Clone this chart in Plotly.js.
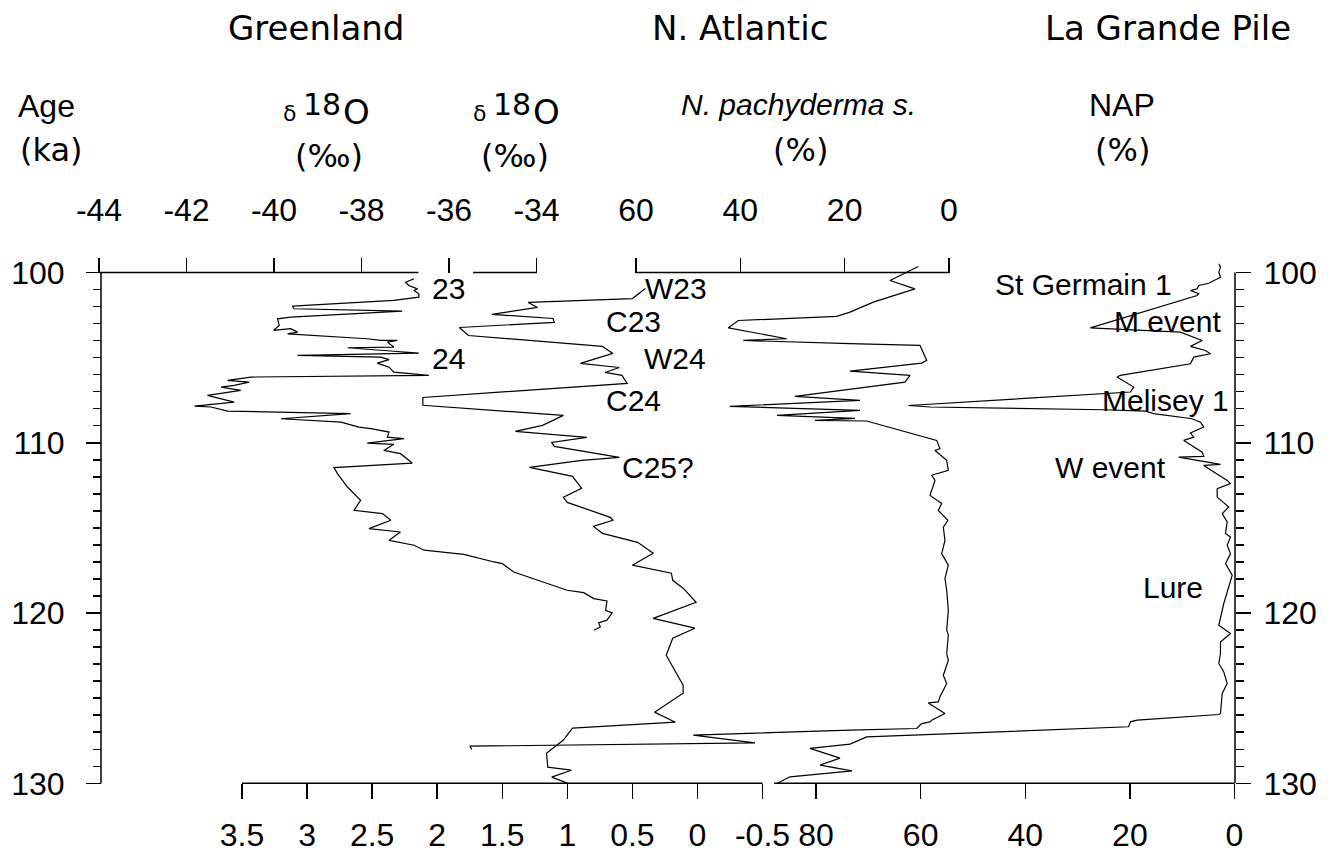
<!DOCTYPE html>
<html><head><meta charset="utf-8">
<script src="https://cdn.plot.ly/plotly-3.0.1.min.js"></script>
<style>html,body{margin:0;padding:0;background:#fff}</style>
</head><body><div id="chart" style="width:1334px;height:856px"></div>
<script>
// ---------------- DATA ----------------
// Greenland ice-core delta18O (permil) vs age (ka)
const grAge = [100.37,100.57,100.76,100.96,101.06,101.25,101.45,101.64,101.98,102.13,102.27,102.62,102.72,103.11,103.40,103.30,103.50,103.60,103.89,103.99,103.99,104.09,104.38,104.42,104.64,104.74,104.87,104.97,105.12,105.32,105.56,105.85,106.04,106.14,106.34,106.44,106.63,106.73,106.92,107.22,107.61,107.85,107.90,108.14,108.29,108.59,108.79,109.08,109.17,109.37,109.67,109.76,110.02,110.09,110.45,110.64,111.19,111.38,111.46,111.81,112.60,113.38,113.97,114.16,114.55,115.04,115.24,115.73,116.02,116.31,116.55,117.00,117.10,117.59,117.98,118.37,118.66,118.80,119.15,119.29,119.84,119.99,120.42,120.58,120.82,121.01];
const grD18O = [-36.80,-36.99,-36.92,-36.72,-36.80,-36.69,-36.69,-37.26,-39.58,-39.54,-37.07,-39.62,-39.92,-39.88,-40.01,-39.62,-39.46,-39.69,-37.87,-37.56,-37.18,-37.41,-37.26,-38.32,-37.18,-36.69,-39.46,-37.56,-37.37,-37.64,-37.37,-37.26,-36.46,-40.53,-41.06,-40.57,-40.91,-41.21,-40.76,-41.52,-40.91,-41.82,-41.44,-41.06,-38.25,-39.84,-38.47,-38.06,-37.79,-37.37,-37.41,-37.03,-37.87,-37.26,-37.49,-37.11,-36.84,-38.32,-38.63,-38.55,-38.32,-38.02,-38.17,-37.52,-37.33,-37.83,-37.11,-37.37,-36.80,-36.57,-35.66,-34.97,-34.78,-34.52,-34.06,-33.60,-33.30,-32.92,-32.69,-32.39,-32.42,-32.27,-32.39,-32.58,-32.54,-32.69];

// N. Atlantic delta18O (permil) vs age (ka)
const naAge = [100.94,101.53,101.76,102.05,102.46,102.70,102.93,103.23,103.70,104.34,104.75,105.34,105.58,105.87,106.04,106.51,107.34,107.80,108.39,108.98,109.33,109.68,109.98,110.21,110.86,111.03,111.44,111.97,112.68,113.20,113.50,114.38,114.55,114.91,115.32,115.85,116.49,117.19,117.66,118.08,118.54,119.37,120.31,120.89,121.48,122.48,124.24,124.71,125.82,126.41,126.76,127.46,128.23,129.05,129.23,129.64,129.99];
const naD18O = [0.40,0.50,1.30,1.23,1.58,1.11,1.10,1.83,1.76,0.73,0.65,0.90,0.60,0.71,0.58,0.54,2.11,2.11,1.03,1.19,1.40,0.85,1.12,1.10,0.60,0.89,1.29,0.96,0.89,1.03,1.00,0.67,0.65,0.80,0.73,0.46,0.34,0.50,0.20,0.19,0.11,0.01,0.34,0.02,0.19,0.24,0.11,0.11,0.33,0.17,0.96,1.03,1.16,1.15,0.97,1.12,1.00];

// N. Atlantic N. pachyderma s. (%) vs age (ka)
const npAge = [99.65,100.47,100.96,101.74,102.33,102.58,102.82,103.25,103.89,103.99,104.18,104.28,105.16,105.32,105.79,106.04,106.44,107.28,107.51,107.86,108.10,108.39,108.57,108.69,108.72,109.86,110.35,110.45,111.03,111.62,111.91,112.21,113.09,113.57,113.97,114.55,114.95,115.73,116.51,117.19,117.97,118.66,119.84,121.01,121.30,122.38,122.77,123.65,124.14,124.92,125.22,125.28,125.90,126.29,126.39,126.49,126.68,126.78,126.88,127.17,127.62,127.82,128.01];
const npPct = [5.88,11.31,6.52,14.51,18.98,21.53,40.39,42.30,31.11,39.43,18.98,5.56,4.27,5.23,18.98,7.48,8.43,29.52,17.06,41.98,17.06,32.97,18.02,25.69,15.78,2.36,1.73,2.68,0.44,0.13,3.32,2.68,3.64,1.40,2.05,0.20,1.09,0.77,1.40,0.13,0.77,0.44,0.13,0.44,0.13,0.44,0.13,1.09,0.44,1.73,2.05,3.97,0.77,3.32,3.64,5.23,5.88,6.19,18.98,49.01,37.19,91.81,91.49];

// La Grande Pile non-arboreal pollen NAP (%) vs age (ka)
const napAge = [99.49,99.69,99.98,100.28,100.63,100.76,100.96,101.06,101.25,101.35,103.25,103.50,103.99,104.34,104.58,104.77,104.97,105.36,106.04,106.14,106.73,107.02,107.81,107.90,108.06,108.14,108.29,108.59,108.79,109.08,109.43,109.67,109.86,110.55,110.80,110.84,111.27,111.33,112.21,112.40,112.69,113.19,113.77,114.16,114.65,115.33,115.53,116.02,116.51,117.10,117.78,118.47,119.44,120.72,121.20,121.70,122.38,122.96,123.46,124.14,124.72,125.90,125.96,126.29,126.39,126.68,127.27,127.70,127.95,128.52,128.93,129.27,129.62,130.01];
const napPct = [3.00,2.68,3.00,2.68,4.92,6.83,7.14,8.42,6.83,7.14,27.56,10.33,6.18,8.42,5.55,4.59,7.79,8.42,21.82,22.45,19.27,19.90,62.33,58.18,25.01,17.03,15.44,8.10,6.51,5.88,8.42,7.79,9.70,6.18,5.88,10.66,2.68,5.88,1.40,0.77,3.31,3.31,1.09,2.35,1.40,1.72,0.77,1.40,0.77,1.72,0.44,1.09,2.05,3.00,0.77,2.68,2.68,3.00,2.05,1.40,2.35,2.68,3.00,18.62,19.90,20.23,70.30,73.49,81.15,75.41,79.23,73.11,84.98,87.46];

// Tick values / labels
const ageTicks = [100, 110, 120, 130];
const grTicks = [-44, -42, -40, -38, -36, -34];
const grTickText = ['-44', '-42', '-40', '-38', '-36', '-34'];
const naTicks = [3.5, 3, 2.5, 2, 1.5, 1, 0.5, 0, -0.5];
const naTickText = ['3.5', '3', '2.5', '2', '1.5', '1', '0.5', '0', '-0.5'];
const npTicks = [60, 40, 20, 0];
const napTicks = [80, 60, 40, 20, 0];

// ---------------- LAYOUT ----------------
const W = 1334, H = 856;
const px = x => x / W;
const py = y => 1 - y / H;
const FONT = 'Liberation Sans, Arial, Helvetica, sans-serif';
const WIDE = 'DejaVu Sans, Verdana, sans-serif';
const BLACK = '#000';

const minorAges = [];
for (let a = 101; a < 130; a++) if (a % 10 !== 0) minorAges.push(a);

const yRange = [134.269, 83.996];
const yTop = py(272.5), yBot = py(783.3);

function xAxis(extra) {
  return Object.assign({
    domain: [0, 1], anchor: 'free', tickmode: 'array', ticks: 'outside',
    ticklen: 15, tickwidth: 1.5, tickcolor: BLACK, showline: false, showgrid: false,
    zeroline: false, fixedrange: true,
    tickfont: {family: FONT, size: 32, color: BLACK}
  }, extra);
}
function yAxis(extra) {
  return Object.assign({
    domain: [0, 1], anchor: 'free', range: yRange, tickmode: 'array', tickvals: ageTicks,
    ticktext: ageTicks.map(String), ticks: 'outside', ticklen: 15, tickwidth: 1.5,
    tickcolor: BLACK, showline: false, showgrid: false, zeroline: false, fixedrange: true,
    tickfont: {family: FONT, size: 32, color: BLACK},
    minor: {tickmode: 'array', tickvals: minorAges, ticks: 'outside', ticklen: 8, tickwidth: 1.5, tickcolor: BLACK, showgrid: false}
  }, extra);
}

const lineStyle = {color: BLACK, width: 1.2};
const traces = [
  {x: grD18O, y: grAge, xaxis: 'x', yaxis: 'y', mode: 'lines', line: lineStyle, hoverinfo: 'skip'},
  {x: naD18O, y: naAge, xaxis: 'x2', yaxis: 'y', mode: 'lines', line: lineStyle, hoverinfo: 'skip'},
  {x: npPct, y: npAge, xaxis: 'x3', yaxis: 'y', mode: 'lines', line: lineStyle, hoverinfo: 'skip'},
  {x: napPct, y: napAge, xaxis: 'x4', yaxis: 'y', mode: 'lines', line: lineStyle, hoverinfo: 'skip'},
  {x: [null], y: [null], xaxis: 'x', yaxis: 'y2', mode: 'lines', hoverinfo: 'skip'}
];

const axLine = {color: BLACK, width: 1.5};
const shapes = [
  {type: 'line', xref: 'paper', yref: 'y', x0: px(101), x1: px(101), y0: 100, y1: 130, line: axLine},
  {type: 'line', xref: 'paper', yref: 'y', x0: px(1235), x1: px(1235), y0: 100, y1: 130, line: axLine},
  {type: 'line', xref: 'x', yref: 'y', x0: -44, x1: -36.7, y0: 100, y1: 100, line: axLine},
  {type: 'line', xref: 'x', yref: 'y', x0: -35.45, x1: -34, y0: 100, y1: 100, line: axLine},
  {type: 'line', xref: 'x3', yref: 'y', x0: 60, x1: 0, y0: 100, y1: 100, line: axLine},
  {type: 'line', xref: 'x2', yref: 'y', x0: 3.5, x1: -0.5, y0: 130, y1: 130, line: axLine},
  {type: 'line', xref: 'x4', yref: 'y', x0: 88, x1: 0, y0: 130, y1: 130, line: axLine}
];

function label(text, cx, cy, size, family) {
  return {xref: 'paper', yref: 'paper', x: px(cx), y: py(cy), text: text,
    showarrow: false, xanchor: 'center', yanchor: 'middle',
    font: {family: family || FONT, size: size, color: BLACK}};
}
// delta-18-O header built from three pieces (small delta, raised 18, large O)
function d18(cx) {
  return [
    label('δ', cx - 36, 114, 22, WIDE),
    label('18', cx - 3, 104, 30, WIDE),
    label('O', cx + 31, 112, 34, WIDE)
  ];
}
const annotations = [
  label('Greenland', 316, 28, 34, WIDE),
  label('N. Atlantic', 740, 28, 34, WIDE),
  label('La Grande Pile', 1168, 28, 34, WIDE),
  label('Age', 46, 106, 32),
  label('(ka)', 51, 150, 32, WIDE),
  ...d18(325),
  label('(‰)', 329, 156, 32, WIDE),
  ...d18(515),
  label('(‰)', 515, 156, 32, WIDE),
  label('<i>N. pachyderma s.</i>', 798, 105, 30),
  label('(%)', 800, 150, 32, WIDE),
  label('NAP', 1122, 105, 32),
  label('(%)', 1122, 150, 32, WIDE),
  label('23', 448, 288, 30),
  label('24', 448, 358, 30),
  label('W23', 676, 288, 30),
  label('C23', 633, 322, 30),
  label('W24', 675, 358, 30),
  label('C24', 633, 400, 30),
  label('C25?', 658, 467, 30),
  label('St Germain 1', 1083, 285, 30),
  label('M event', 1167, 321, 30),
  label('Melisey 1', 1165, 400, 30),
  label('W event', 1110, 467, 30),
  label('Lure', 1173, 587, 30)
];

const layout = {
  width: W, height: H, margin: {l: 0, r: 0, t: 0, b: 0},
  paper_bgcolor: '#fff', plot_bgcolor: 'rgba(0,0,0,0)', showlegend: false,
  xaxis: xAxis({range: [-46.263, -15.771], position: yTop, side: 'top', tickvals: grTicks, ticktext: grTickText, ticklabelstandoff: 24}),
  xaxis2: xAxis({range: [5.3598, -4.8919], position: yBot, side: 'bottom', overlaying: 'x', tickvals: naTicks, ticktext: naTickText, ticklabelstandoff: 8}),
  xaxis3: xAxis({range: [181.917, -73.802], position: yTop, side: 'top', overlaying: 'x', tickvals: npTicks, ticktext: npTicks.map(String), ticklabelstandoff: 24}),
  xaxis4: xAxis({range: [235.986, -19.020], position: yBot, side: 'bottom', overlaying: 'x', tickvals: napTicks, ticktext: napTicks.map(String), ticklabelstandoff: 8}),
  yaxis: yAxis({position: px(101), side: 'left', ticklabelstandoff: 15}),
  yaxis2: yAxis({position: px(1235), side: 'right', overlaying: 'y', ticklabelstandoff: 6}),
  shapes: shapes,
  annotations: annotations
};

Plotly.newPlot('chart', traces, layout, {displayModeBar: false, staticPlot: true});
</script>
</body></html>
